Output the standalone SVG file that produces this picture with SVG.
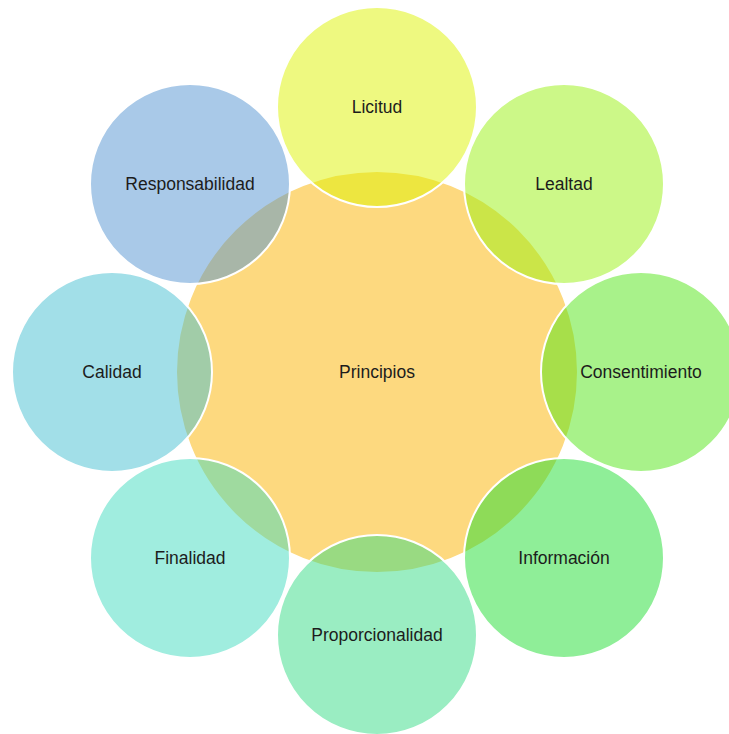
<svg xmlns="http://www.w3.org/2000/svg" width="729" height="734" viewBox="0 0 729 734">
<style>
.c{stroke:#fff;stroke-width:2;fill-opacity:0.5}
.t{font-family:"Liberation Sans",Arial,sans-serif;font-size:17.5px;fill:#1c1c1c;text-anchor:middle;dominant-baseline:central}
</style>
<rect width="729" height="734" fill="#fff"/>
<g id="principios">
<circle cx="377" cy="372" r="201" fill="#FDD97F" stroke="#fff" stroke-width="2"/>
<text class="t" x="377" y="372">Principios</text>
</g>
<g id="licitud"><circle class="c" cx="377" cy="107" r="100" fill="#DDF301"/><text class="t" x="377" y="107">Licitud</text></g>
<g id="lealtad"><circle class="c" cx="564" cy="184" r="100" fill="#99F111"/><text class="t" x="564" y="184">Lealtad</text></g>
<g id="consentimiento"><circle class="c" cx="641" cy="372" r="100" fill="#51E515"/><text class="t" x="641" y="372">Consentimiento</text></g>
<g id="informacion"><circle class="c" cx="564" cy="558" r="100" fill="#1FDD31"/><text class="t" x="564" y="558">Información</text></g>
<g id="proporcionalidad"><circle class="c" cx="377" cy="635" r="100" fill="#35DB85"/><text class="t" x="377" y="635">Proporcionalidad</text></g>
<g id="finalidad"><circle class="c" cx="190" cy="558" r="100" fill="#41DBBF"/><text class="t" x="190" y="558">Finalidad</text></g>
<g id="calidad"><circle class="c" cx="112" cy="372" r="100" fill="#45BFD1"/><text class="t" x="112" y="372">Calidad</text></g>
<g id="responsabilidad"><circle class="c" cx="190" cy="184" r="100" fill="#5393D1"/><text class="t" x="190" y="184">Responsabilidad</text></g>
<g id="connectors"/>
</svg>
